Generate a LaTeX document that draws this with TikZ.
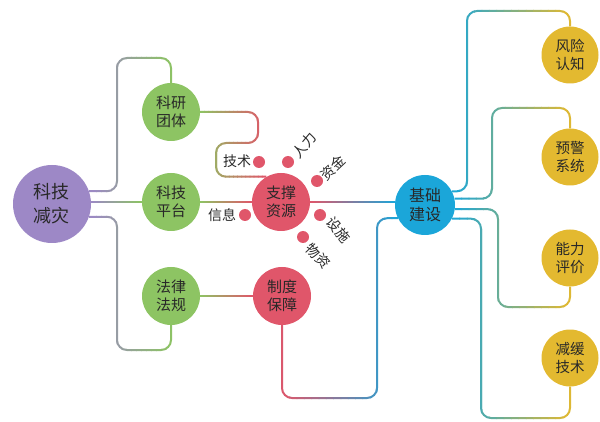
\documentclass[tikz,border=0pt]{standalone}
\usepackage{fontspec}
\newfontfamily\cjk{Noto Sans CJK SC}
\usetikzlibrary{calc}
\definecolor{cpur}{RGB}{157,136,198}
\definecolor{cgrn}{RGB}{141,196,99}
\definecolor{cred}{RGB}{224,86,106}
\definecolor{cblu}{RGB}{27,166,217}
\definecolor{cyel}{RGB}{227,185,48}
\definecolor{ctxt}{RGB}{40,40,40}
\pgfdeclarelayer{bg}
\pgfsetlayers{bg,main}
\newcommand\gradconn[5]{%
  \foreach \k in {0,...,15}{%
    \pgfmathsetmacro\xa{ifthenelse(\k==0,#1-40,#1+(#2-#1)*\k/16)}%
    \pgfmathsetmacro\xb{ifthenelse(\k==15,#2+40,#1+(#2-#1)*(\k+1)/16+0.8)}%
    \pgfmathsetmacro\pct{100-100*(\k+0.5)/16}%
    \begin{scope}
      \clip (\xa,-30) rectangle (\xb,460);
      \draw[conn, draw=#3!\pct!#4] #5;
    \end{scope}
  }%
}
\begin{document}
\begin{tikzpicture}[x=1pt,y=-1pt,
  bub/.style={circle, inner sep=0pt, minimum size=58pt, text=ctxt, align=center,
    font=\cjk\fontsize{15}{18.5}\selectfont},
  reddot/.style={circle, fill=cred, inner sep=0pt, minimum size=12pt},
  lab/.style={text=ctxt, inner sep=0pt, font=\cjk\fontsize{14}{16}\selectfont},
  conn/.style={line width=2pt, rounded corners=10pt}]
\useasboundingbox (0,0) rectangle (600,422);

% main bubbles
\node[bub, fill=cpur, minimum size=78pt, font=\cjk\fontsize{18}{24}\selectfont] (kjjz) at (52,204) {科技\\减灾};
\node[bub, fill=cgrn] (kyt) at (171,112) {科研\\团体};
\node[bub, fill=cgrn] (kjpt) at (171,202) {科技\\平台};
\node[bub, fill=cgrn] (flfg) at (171,296) {法律\\法规};
\node[bub, fill=cred] (zcy) at (281,202) {支撑\\资源};
\node[bub, fill=cred] (zdbz) at (282,296) {制度\\保障};
\node[bub, fill=cblu, minimum size=60pt, font=\cjk\fontsize{16}{19}\selectfont] (jcjs) at (425,205) {基础\\建设};
\node[bub, fill=cyel, minimum size=57pt, font=\cjk\fontsize{14.5}{18.5}\selectfont] (fxrz) at (570,55) {风险\\认知};
\node[bub, fill=cyel, minimum size=57pt, font=\cjk\fontsize{14.5}{18.5}\selectfont] (yjxt) at (570,157) {预警\\系统};
\node[bub, fill=cyel, minimum size=57pt, font=\cjk\fontsize{14.5}{18.5}\selectfont] (nlpj) at (570,258) {能力\\评价};
\node[bub, fill=cyel, minimum size=57pt, font=\cjk\fontsize{14.5}{18.5}\selectfont] (hhjs) at (570,358) {减缓\\技术};

% small dots and labels around 支撑资源
\node[reddot] (d1) at (259,162) {};
\node[reddot] (d2) at (288,162) {};
\node[reddot] (d3) at (317,181) {};
\node[reddot] (d4) at (245,215) {};
\node[reddot] (d5) at (320,215) {};
\node[reddot] (d6) at (303,237) {};
\node[lab] (l1) at (237,161) {技术};
\node[lab, rotate=50] (l2) at (304,145) {人力};
\node[lab, rotate=43] (l3) at (333,168) {资金};
\node[lab] (l4) at (222,215) {信息};
\node[lab, rotate=-50] (l5) at (339,230) {设施};
\node[lab, rotate=-47] (l6) at (318,256) {物资};

% connectors
\begin{pgfonlayer}{bg}
\gradconn{91}{171}{cpur}{cgrn}{(kjjz.19) -| (117,58) -| (kyt.north)}
\gradconn{91}{142}{cpur}{cgrn}{(kjpt.west -| kjjz.east) -- (kjpt.west)}
\gradconn{91}{171}{cpur}{cgrn}{(kjjz.-19) -| (117,350) -| (flfg.south)}
\gradconn{200}{266}{cgrn}{cred}{(kyt.east) -| (258,143) -- (216,143) |- (zcy.120)}
\gradconn{200}{252}{cgrn}{cred}{(kjpt.east) -- (zcy.west)}
\gradconn{200}{253}{cgrn}{cred}{(flfg.east) -- (zdbz.west)}
\gradconn{310}{396}{cred}{cblu}{(zcy.east) -- (zcy.east -| jcjs.west)}
\gradconn{282}{399}{cred}{cblu}{(zdbz.south) |- (377,398) |- (jcjs.206)}
\gradconn{452}{570}{cblu}{cyel}{(jcjs.27) -| (467,11) -| (fxrz.north)}
\gradconn{454}{570}{cblu}{cyel}{(jcjs.12) -| (492,108) -| (yjxt.north)}
\gradconn{454}{570}{cblu}{cyel}{(jcjs.-8) -| (498,307) -| (nlpj.south)}
\gradconn{452}{570}{cblu}{cyel}{(jcjs.-27) -| (481,418) -| (hhjs.south)}
\end{pgfonlayer}
\end{tikzpicture}
\end{document}
